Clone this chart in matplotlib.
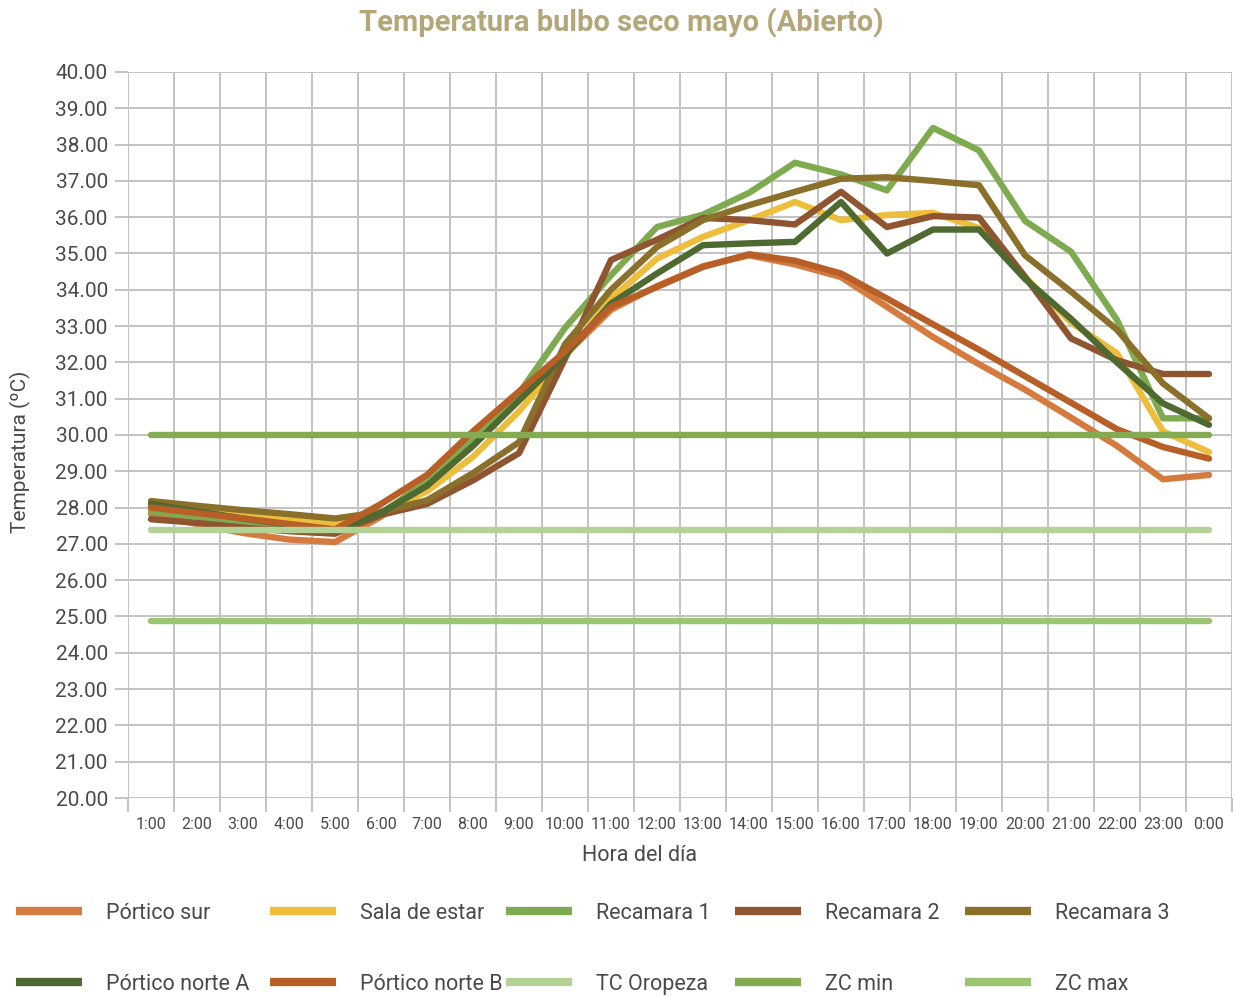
import matplotlib
matplotlib.use("Agg")
import matplotlib.pyplot as plt
import numpy as np

hours = ["1:00", "2:00", "3:00", "4:00", "5:00", "6:00", "7:00", "8:00", "9:00",
         "10:00", "11:00", "12:00", "13:00", "14:00", "15:00", "16:00", "17:00",
         "18:00", "19:00", "20:00", "21:00", "22:00", "23:00", "0:00"]

portico_sur = [27.82, 27.55, 27.30, 27.12, 27.05, 27.75, 28.80, 30.00, 31.10, 32.20,
               33.45, 34.10, 34.65, 34.95, 34.70, 34.35, 33.53, 32.70, 31.95, 31.25,
               30.48, 29.70, 28.78, 28.90]
sala_estar = [28.05, 27.92, 27.80, 27.68, 27.55, 27.85, 28.45, 29.40, 30.65, 32.15,
              33.75, 34.86, 35.46, 35.92, 36.42, 35.92, 36.06, 36.12, 35.70, 34.35,
              33.10, 32.25, 30.10, 29.53]
recamara_1 = [27.90, 27.75, 27.60, 27.48, 27.40, 27.85, 28.70, 29.85, 31.15, 32.95,
              34.40, 35.73, 36.07, 36.67, 37.50, 37.18, 36.74, 38.46, 37.84, 35.90,
              35.05, 33.17, 30.46, 30.46]
recamara_2 = [27.68, 27.58, 27.45, 27.35, 27.28, 27.80, 28.10, 28.75, 29.50, 32.10,
              34.82, 35.38, 35.98, 35.92, 35.80, 36.70, 35.73, 36.03, 35.99, 34.36,
              32.66, 32.06, 31.68, 31.68]
recamara_3 = [28.18, 28.05, 27.93, 27.82, 27.70, 27.88, 28.20, 28.95, 29.80, 32.50,
              34.00, 35.18, 35.92, 36.33, 36.70, 37.06, 37.10, 37.00, 36.88, 34.95,
              33.95, 32.90, 31.42, 30.46]
portico_norte_a = [28.10, 27.90, 27.70, 27.52, 27.35, 27.85, 28.60, 29.70, 30.95, 32.20,
                   33.62, 34.45, 35.23, 35.28, 35.32, 36.42, 35.00, 35.66, 35.66, 34.30,
                   33.20, 32.00, 30.87, 30.28]
portico_norte_b = [28.00, 27.85, 27.70, 27.55, 27.40, 28.10, 28.90, 30.10, 31.20, 32.30,
                   33.53, 34.08, 34.63, 34.98, 34.80, 34.45, 33.76, 33.05, 32.35, 31.62,
                   30.89, 30.16, 29.67, 29.35]
tc_oropeza = 27.38
zc_min = 30.00
zc_max = 24.88

n = len(hours)
x = np.arange(n) + 0.5

series = [
    ("Pórtico sur", portico_sur, "#D57B40"),
    ("Sala de estar", sala_estar, "#EDBD3C"),
    ("Recamara 1", recamara_1, "#7FAB50"),
    ("Recamara 2", recamara_2, "#8F5430"),
    ("Recamara 3", recamara_3, "#8A702A"),
    ("Pórtico norte A", portico_norte_a, "#4E6A31"),
    ("Pórtico norte B", portico_norte_b, "#B85F28"),
    ("TC Oropeza", np.full(n, tc_oropeza), "#B4D196"),
    ("ZC min", np.full(n, zc_min), "#84AA52"),
    ("ZC max", np.full(n, zc_max), "#9DC471"),
]

plt.rcParams["font.family"] = ["Roboto", "DejaVu Sans"]
text_col = "#4A4A4A"
weight = "normal"

fig = plt.figure(figsize=(12.35, 9.96), dpi=100)
ax = fig.add_axes([128 / 1235, 1 - 798 / 996, (1232 - 128) / 1235, (798 - 72) / 996])

colors = {}
for name, vals, color in series:
    ax.plot(x, vals, color=color, lw=4.6, solid_capstyle="round",
            solid_joinstyle="round", label=name)
    colors[name] = color

ax.set_xlim(0, n)
ax.set_ylim(20, 40)
ax.set_xticks(np.arange(n + 1))
ax.set_xticklabels([])
ax.set_xticks(x, minor=True)
ax.set_xticklabels(hours, minor=True)
ax.set_yticks(np.arange(20, 41, 1))
ax.set_yticklabels([f"{v:.2f}" for v in np.arange(20, 41, 1)])

ax.grid(True, which="major", color="#C3C3C3", lw=1.4)
ax.set_axisbelow(True)
for s in ax.spines.values():
    s.set_visible(False)

ax.tick_params(axis="x", which="major", length=10, width=1.4, color="#C3C3C3")
ax.tick_params(axis="x", which="minor", length=0, pad=14, labelsize=11.5, labelcolor=text_col)
ax.tick_params(axis="y", length=9.5, width=1.4, color="#C3C3C3", pad=5,
               labelsize=15, labelcolor=text_col)
for lab in ax.get_yticklabels() + ax.get_xticklabels(minor=True):
    lab.set_fontweight(weight)

fig.text(0.503, 1 - 23 / 996, "Temperatura bulbo seco mayo (Abierto)", ha="center",
         va="center", fontsize=21, fontweight="bold", color="#B4A678")
fig.text(20 / 1235, 1 - 452 / 996, "Temperatura (ºC)", rotation=90, ha="center",
         va="center", fontsize=15, color=text_col, fontweight=weight)
fig.text(640 / 1235, 1 - 855 / 996, "Hora del día", ha="center", va="center",
         fontsize=15.5, color=text_col, fontweight=weight)

# legend: two rows, five fixed-width columns like the Excel original
legend_cols = [("Pórtico sur", "Pórtico norte A"), ("Sala de estar", "Pórtico norte B"),
               ("Recamara 1", "TC Oropeza"), ("Recamara 2", "ZC min"),
               ("Recamara 3", "ZC max")]
col_left = [16, 270, 506, 735, 965]
for left, names in zip(col_left, legend_cols):
    hs = [plt.Line2D([], [], color=colors[k], lw=6, solid_capstyle="butt") for k in names]
    leg = fig.legend(hs, names, loc="upper left", bbox_to_anchor=(left / 1235, 1 - 903 / 996),
                     ncol=1, frameon=False, fontsize=15.5, handlelength=3.05, handletextpad=1.15,
                     labelspacing=2.3, borderpad=0, borderaxespad=0)
    for t in leg.get_texts():
        t.set_color(text_col)
        t.set_fontweight(weight)

fig.savefig("out.png", dpi=100)
